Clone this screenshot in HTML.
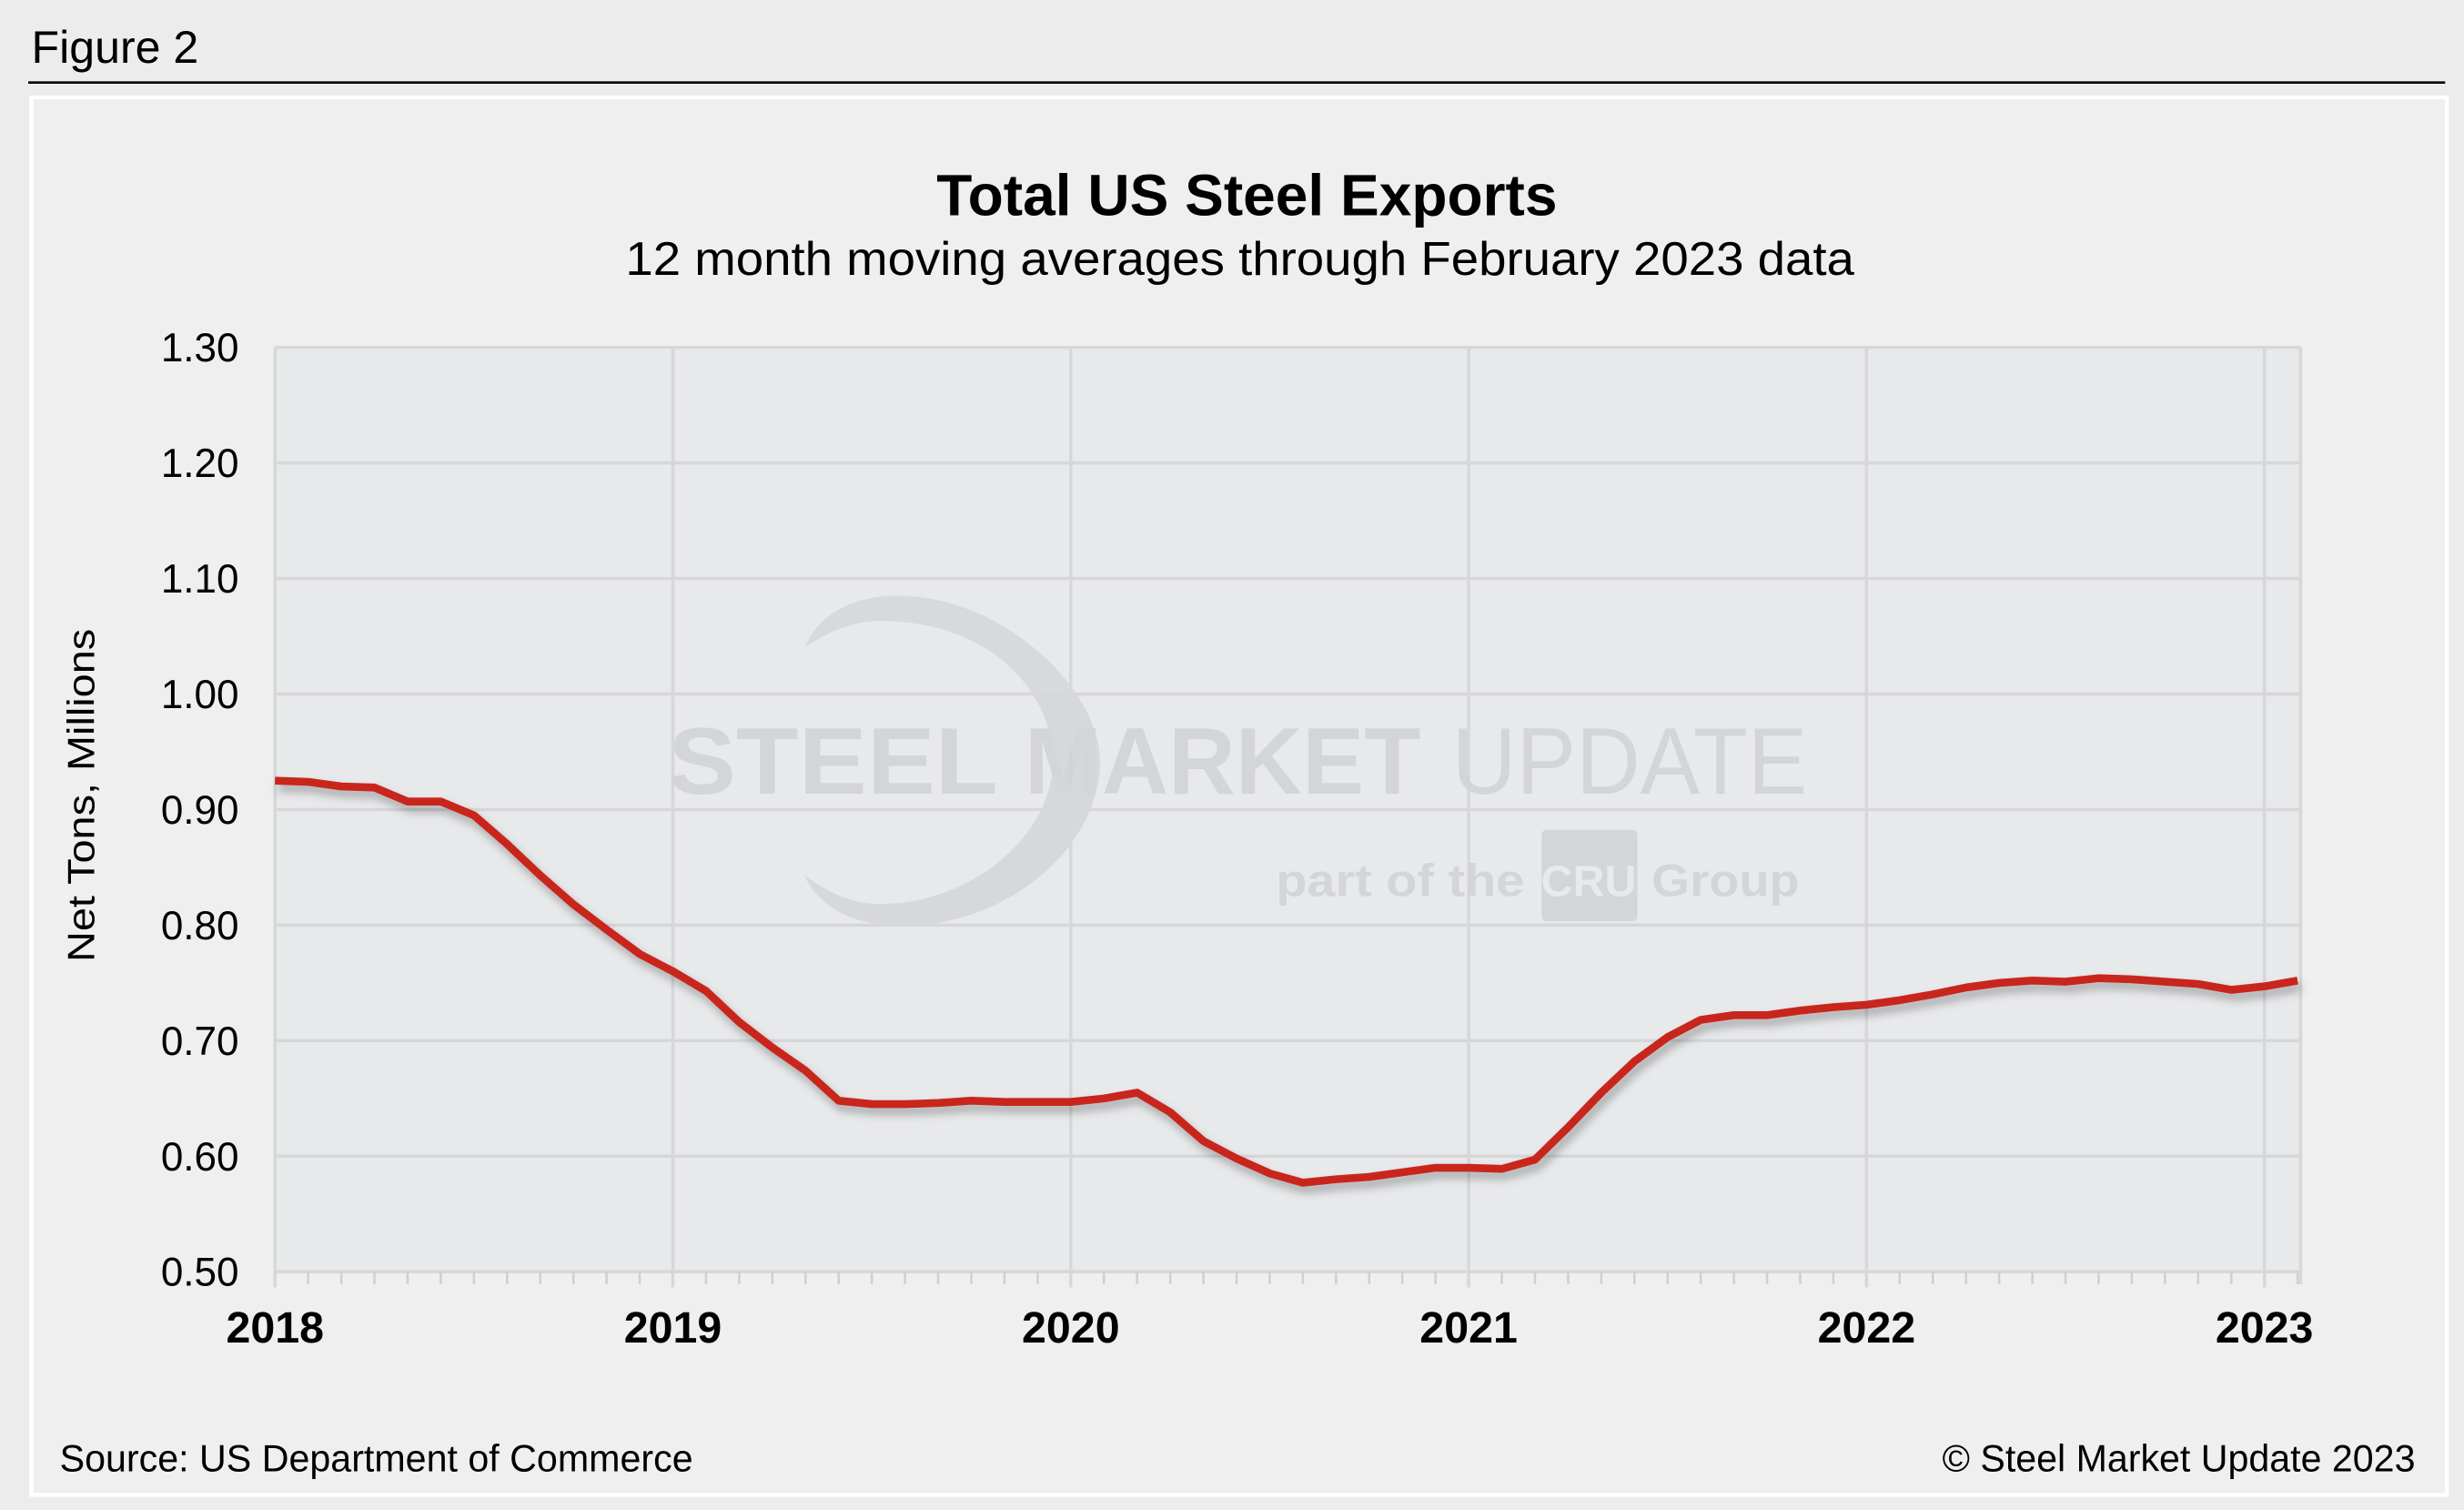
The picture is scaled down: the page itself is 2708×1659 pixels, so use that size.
<!DOCTYPE html>
<html><head><meta charset="utf-8"><style>
html,body{margin:0;padding:0;background:#ececec;}
svg{display:block;font-family:"Liberation Sans",Arial,sans-serif;}
</style></head><body>
<svg id="chart" width="2708" height="1659" viewBox="0 0 1568 960.6" preserveAspectRatio="none">
<defs><filter id="sh" x="-5%" y="-5%" width="110%" height="120%"><feDropShadow dx="2" dy="4" stdDeviation="3" flood-color="#000" flood-opacity="0.3"/></filter></defs>
<rect x="0" y="0" width="1568" height="961" fill="#ececec"/>
<text x="20" y="40" font-size="29" fill="#000">Figure 2</text>
<line x1="18" y1="52.5" x2="1556" y2="52.5" stroke="#000" stroke-width="1.5"/>
<rect x="20" y="62" width="1537" height="889" fill="#efefef" stroke="#fff" stroke-width="2.5"/>
<text x="596" y="137" font-size="37" font-weight="bold" textLength="395" lengthAdjust="spacingAndGlyphs">Total US Steel Exports</text>
<text x="398" y="175" font-size="30" textLength="782" lengthAdjust="spacingAndGlyphs">12 month moving averages through February 2023 data</text>
<rect x="175" y="221" width="1289" height="588" fill="#e8e9eb"/>
<g id="grid"></g>
<g opacity="0.9">
<path d="M571,379 C640,379 700,440 700,484 C700,540 640,589 575,589 C540,589 520,575 512,557 C530,570 545,575 560,575 C620,575 670,530 670,484 C670,440 630,395 560,395 C545,395 530,400 512,412 C520,393 540,379 571,379Z" fill="#d6d7d9"/>
<text x="425" y="505" font-size="60" font-weight="bold" fill="#d2d3d5" textLength="210" lengthAdjust="spacingAndGlyphs">STEEL</text>
<text x="652" y="505" font-size="60" font-weight="bold" fill="#d2d3d5" textLength="252" lengthAdjust="spacingAndGlyphs">MARKET</text>
<text x="924" y="505" font-size="60" fill="#d2d3d5" textLength="226" lengthAdjust="spacingAndGlyphs">UPDATE</text>
<text x="812" y="570" font-size="29" font-weight="bold" fill="#d2d3d5" textLength="158" lengthAdjust="spacingAndGlyphs">part of the</text>
<rect x="981" y="528" width="61" height="58" rx="3" fill="#d2d3d5"/>
<text x="1011" y="570" font-size="28" font-weight="bold" fill="#e8e9eb" text-anchor="middle">CRU</text>
<text x="1051" y="570" font-size="29" font-weight="bold" fill="#d2d3d5" textLength="94" lengthAdjust="spacingAndGlyphs">Group</text>
</g>
<g id="yticks"></g>
<g id="xticks"></g>
<text transform="translate(60,506) rotate(-90)" font-size="24" text-anchor="middle" textLength="212" lengthAdjust="spacingAndGlyphs">Net Tons, Millions</text>
<g id="series"></g>
<text x="38" y="936" font-size="24" textLength="403" lengthAdjust="spacingAndGlyphs">Source: US Department of Commerce</text>
<text x="1537" y="936" font-size="24" text-anchor="end" textLength="301" lengthAdjust="spacingAndGlyphs">© Steel Market Update 2023</text>
</svg>
<script>
const yTicks=[0.50,0.60,0.70,0.80,0.90,1.00,1.10,1.20,1.30];
const yearLabels=["2018","2019","2020","2021","2022","2023"];
const exports2018=[0.925,0.924,0.920,0.919,0.907,0.907,0.895,0.870,0.843,0.818,0.796,0.775];
const exports2019=[0.760,0.743,0.716,0.694,0.674,0.648,0.645,0.645,0.646,0.648,0.647,0.647];
const exports2020=[0.647,0.650,0.655,0.638,0.613,0.598,0.585,0.577,0.580,0.582,0.586,0.590];
const exports2021=[0.590,0.589,0.597,0.625,0.655,0.682,0.703,0.718,0.722,0.722,0.726,0.729];
const exports2022=[0.731,0.735,0.740,0.746,0.750,0.752,0.751,0.754,0.753,0.751,0.749,0.744];
const exports2023=[0.747,0.752];
const values=[].concat(exports2018,exports2019,exports2020,exports2021,exports2022,exports2023);
const NS="http://www.w3.org/2000/svg";
const L=175,R=1464,T=221,B=809,yMin=0.5,yMax=1.3,monthW=(1441-175)/60;
const xS=i=>L+i*monthW;
const yS=v=>B-(v-yMin)/(yMax-yMin)*(B-T);
function mk(tag,attrs,parent){const e=document.createElementNS(NS,tag);for(const k in attrs)e.setAttribute(k,attrs[k]);document.getElementById(parent).appendChild(e);return e;}
yTicks.forEach(v=>{
 const g=mk('line',{x1:L,x2:R,y1:yS(v),y2:yS(v),stroke:'#d6d7d9','stroke-width':2},'grid');
 
 
 const t=mk('text',{x:152,y:yS(v)+9,'font-size':25.5,'text-anchor':'end'},'yticks');
 t.textContent=v.toFixed(2);
 
 
});
yearLabels.forEach((lab,k)=>{
 const x=xS(k*12);
 const g=mk('line',{x1:x,x2:x,y1:T,y2:B+10,stroke:'#d6d7d9','stroke-width':2},'grid');
 
 
 const t=mk('text',{x:x,y:854,'font-size':28,'font-weight':'bold','text-anchor':'middle'},'xticks');
 t.textContent=lab;
 
 
});
const re=mk('line',{x1:R,x2:R,y1:T,y2:B+8,stroke:'#d6d7d9','stroke-width':2},'grid');


for(let i=0;i<values.length;i++){
 if(i%12===0)continue;
 const m=mk('line',{x1:xS(i),x2:xS(i),y1:B,y2:B+8,stroke:'#d0d0d0','stroke-width':1.5},'xticks');
 
 
}
const d=values.map((v,i)=>(i?'L':'M')+xS(i).toFixed(1)+','+yS(v).toFixed(1)).join(' ');
const p=mk('path',{d:d,fill:'none',stroke:'#c8281e','stroke-width':5,'stroke-linejoin':'round',filter:'url(#sh)'},'series');


</script>
</body></html>
